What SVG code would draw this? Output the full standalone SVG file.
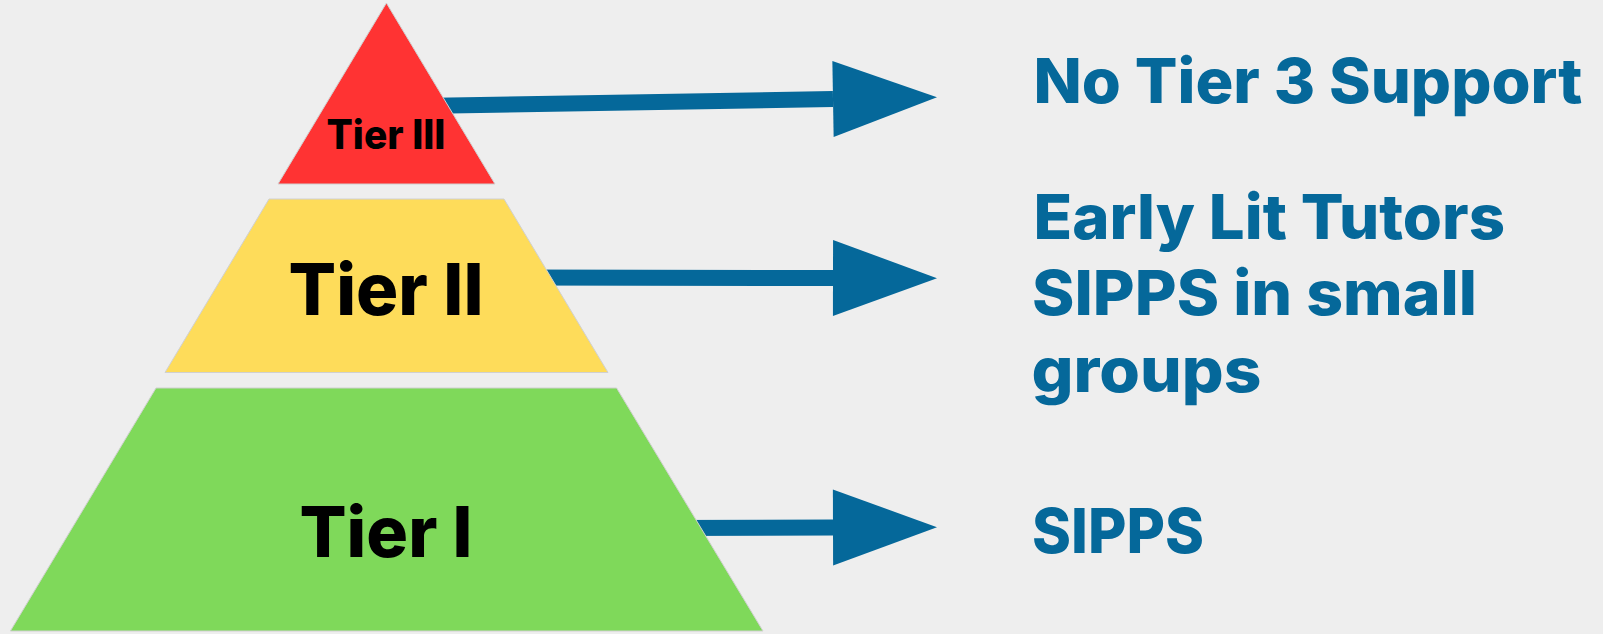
<svg xmlns="http://www.w3.org/2000/svg" width="1603" height="634" viewBox="0 0 1603 634">
<style>
.tier{font-family:Inter,"Liberation Sans",sans-serif;font-weight:800;fill:#000;text-anchor:middle}
.lbl{font-family:Inter,"Liberation Sans",sans-serif;font-weight:800;fill:#05689a;font-size:62px}
.conn{stroke:#05689a;stroke-width:16;fill:none}
.shape{stroke:#d0d0d0;stroke-width:1}
</style>
<defs>
<marker id="head" markerUnits="userSpaceOnUse" markerWidth="104" markerHeight="76" viewBox="0 0 104 76" refX="0" refY="38" orient="auto" overflow="visible">
<path d="M0,0 L104,38 L0,76 Z" fill="#05689a"/>
</marker>
</defs>
<rect width="1603" height="634" fill="#eeeeee"/>
<g id="connectors">
<path class="conn" d="M420,106 L833,99" marker-end="url(#head)"/>
<path class="conn" d="M520,277.5 L833,278" marker-end="url(#head)"/>
<path class="conn" d="M670,528 L833,527.5" marker-end="url(#head)"/>
</g>
<g id="tier3">
<polygon class="shape" points="386.4,3 278,184 495,184" fill="#ff3333"/>
<text class="tier" x="386" y="148.7" font-size="40.5" textLength="119" lengthAdjust="spacingAndGlyphs">Tier III</text>
</g>
<g id="tier2">
<polygon class="shape" points="269,199 504,199 608,372.5 165,372.5" fill="#fedc5a"/>
<text class="tier" x="386" y="315.3" font-size="71.5" textLength="195" lengthAdjust="spacingAndGlyphs">Tier II</text>
</g>
<g id="tier1">
<polygon class="shape" points="156,388 616.6,388 763,631 10.4,631" fill="#7fd95a"/>
<text class="tier" x="386" y="556.7" font-size="70.5" textLength="173" lengthAdjust="spacingAndGlyphs">Tier I</text>
</g>
<g id="label3">
<text class="lbl" x="1033.5" y="102.7" textLength="549" lengthAdjust="spacingAndGlyphs">No Tier 3 Support</text>
</g>
<g id="label2">
<text class="lbl" x="1033.5" y="238.7" textLength="471.5" lengthAdjust="spacingAndGlyphs">Early Lit Tutors</text>
<text class="lbl" x="1032" y="315.3" textLength="445" lengthAdjust="spacingAndGlyphs">SIPPS in small</text>
<text class="lbl" x="1031.5" y="391.7" textLength="230" lengthAdjust="spacingAndGlyphs">groups</text>
</g>
<g id="label1">
<text class="lbl" x="1032" y="552.7" textLength="172" lengthAdjust="spacingAndGlyphs">SIPPS</text>
</g>
</svg>
